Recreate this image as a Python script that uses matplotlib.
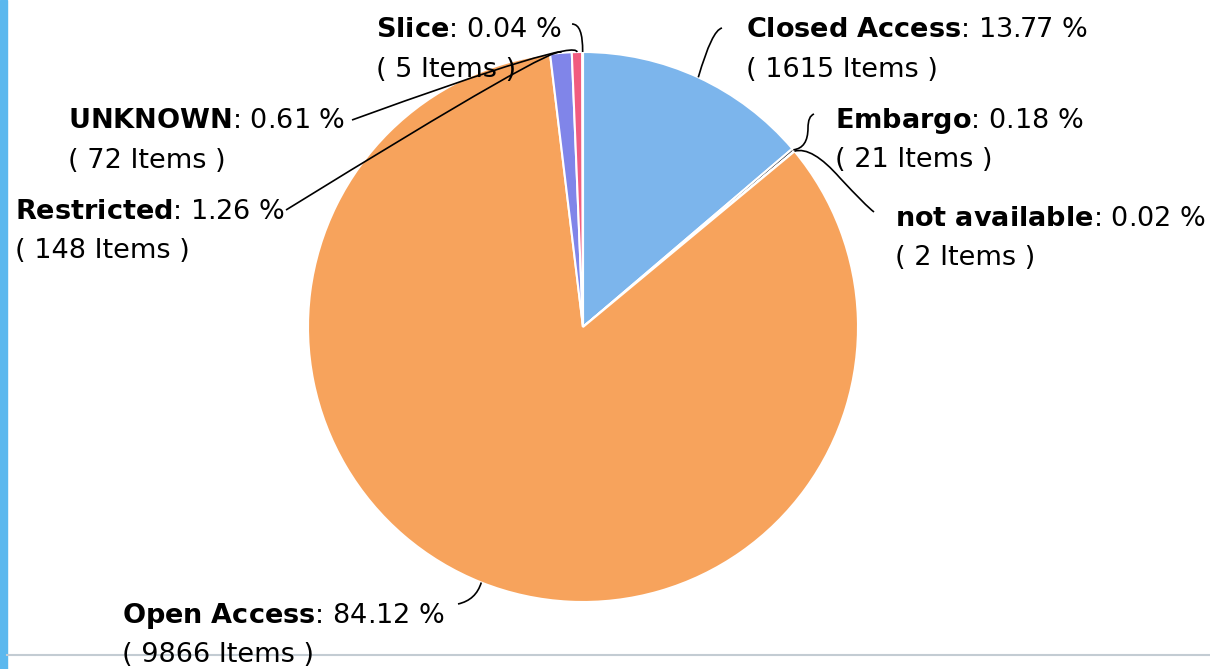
import matplotlib.pyplot as plt
import numpy as np
from matplotlib.path import Path
from matplotlib.patches import PathPatch, Rectangle

# data
labels = ['Closed Access', 'Embargo', 'not available', 'Open Access',
          'Restricted', 'UNKNOWN', 'Slice']
percents = [13.77, 0.18, 0.02, 84.12, 1.26, 0.61, 0.04]
items = [1615, 21, 2, 9866, 148, 72, 5]
colors = ['#7cb5ec', '#434348', '#90ed7d', '#f7a35c', '#8085e9', '#f15c80', '#e4d354']

W, H = 1210, 669
cx, cy, R = 583, 327, 275

# label layout (image pixel coords): text x, baseline line1, baseline line2
text_pos = {
    'Closed Access': (746, 37, 77),
    'Embargo': (835, 128, 167),
    'not available': (895, 226, 265),
    'Open Access': (122, 623, 662),
    'Restricted': (15, 219, 258),
    'UNKNOWN': (68, 128, 168),
    'Slice': (376, 37, 77),
}
# connector points after the slice edge point: pairs of (control, end)
conn = {
    'Closed Access': [(712, 30), (722, 28)],
    'Embargo': [(808, 148), (808, 128), (808, 116), (814, 114)],
    'not available': [(812, 146), (840, 178), (866, 206), (874, 212)],
    'Open Access': [(476, 600), (458, 604)],
    'Restricted': [(561, 40), (286, 210)],
    'UNKNOWN': [(577, 38), (352, 120)],
    'Slice': [(583, 24), (572, 24)],
}


def Y(y):
    return H - y


fig = plt.figure(figsize=(W / 100, H / 100), dpi=100)
ax = fig.add_axes([0, 0, 1, 1])

wedges, _ = ax.pie(percents, colors=colors, startangle=90, counterclock=False,
                   center=(cx, Y(cy)), radius=R,
                   wedgeprops=dict(edgecolor='white', linewidth=1.5))
ax.set_xlim(0, W)
ax.set_ylim(0, H)
ax.set_aspect('equal')
ax.axis('off')

for w, lab, p, n in zip(wedges, labels, percents, items):
    mid = np.deg2rad((w.theta1 + w.theta2) / 2)
    sx, sy = cx + R * np.cos(mid), Y(cy) + R * np.sin(mid)
    pts = [(sx, sy)] + [(x, Y(y)) for x, y in conn[lab]]
    codes = [Path.MOVETO] + [Path.CURVE3] * (len(pts) - 1)
    ax.add_patch(PathPatch(Path(pts, codes), fill=False, edgecolor='black',
                           linewidth=1.2, zorder=3))
    tx, b1, b2 = text_pos[lab]
    name = lab.replace(' ', r'\ ')
    ax.text(tx, Y(b1), r'$\mathbf{' + name + '}$' + ': %.2f %%' % p,
            fontsize=19.5, va='baseline', ha='left', color='black')
    ax.text(tx, Y(b2), '( %d Items )' % n,
            fontsize=19.5, va='baseline', ha='left', color='black')

# page decorations
ax.add_patch(Rectangle((0, 0), 7, H, color='#5bb8ee', zorder=0))
ax.plot([7, W], [Y(655), Y(655)], color='#c3ccd3', linewidth=1.5, zorder=0)

fig.savefig('out.png', dpi=100)
